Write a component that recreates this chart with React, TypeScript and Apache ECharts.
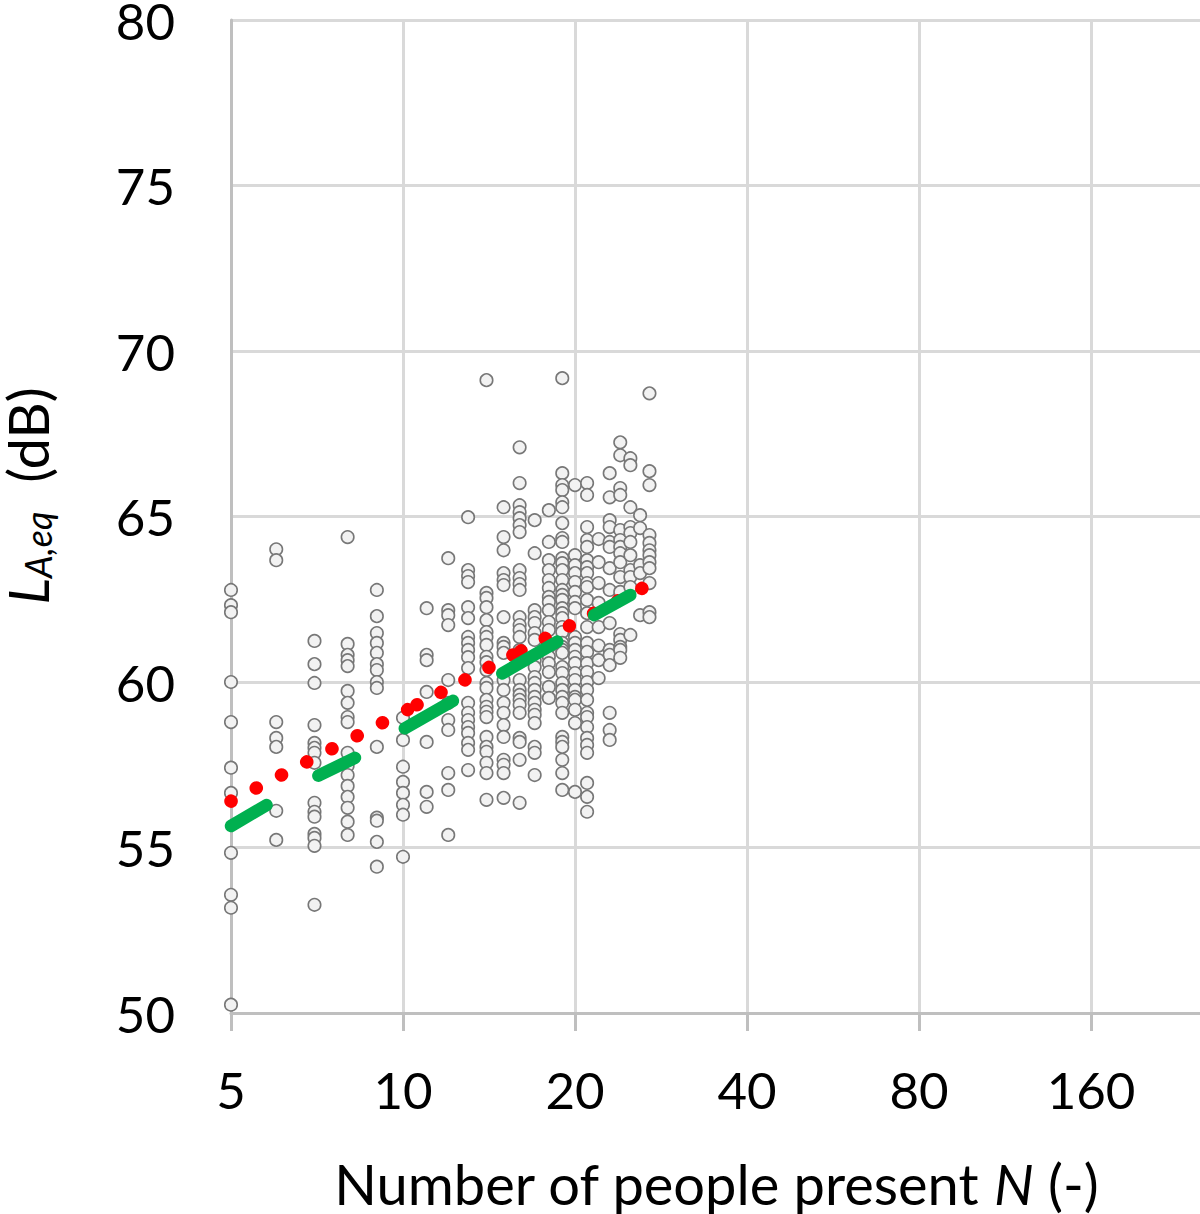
import React, { useEffect, useRef } from "react";
import * as echarts from "echarts";

// Number of people present N (x categories, plotted on a log2 axis)
const peopleCounts = [5, 6, 7, 8, 9, 10, 11, 12, 13, 14, 15, 16, 17, 18, 19, 20, 21, 22, 23, 24, 25, 26, 27];

// Measured LA,eq (dB) for every N above (same order)
const levelsByCount: number[][] = [
  [62.78, 62.32, 62.11, 60.0, 58.79, 57.41, 56.65, 54.84, 53.57, 53.18, 50.25],
  [64.01, 63.68, 58.79, 58.31, 58.04, 56.11, 55.23],
  [61.24, 60.54, 59.97, 58.7, 58.16, 58.01, 57.86, 57.56, 56.35, 56.08, 55.93, 55.41, 55.29, 55.05, 53.27],
  [64.38, 61.15, 60.82, 60.66, 60.48, 59.73, 59.37, 58.94, 58.79, 57.86, 57.47, 57.19, 56.86, 56.53, 56.2, 55.78, 55.38],
  [62.78, 61.99, 61.48, 61.18, 60.88, 60.54, 60.36, 60.0, 59.82, 58.04, 55.9, 55.81, 55.17, 54.42],
  [58.92, 58.25, 57.44, 56.98, 56.65, 56.29, 55.99, 54.72],
  [62.23, 60.82, 60.66, 59.7, 58.19, 56.68, 56.23],
  [63.74, 62.17, 62.02, 61.72, 60.06, 59.37, 58.85, 58.55, 57.25, 56.74, 55.38],
  [64.98, 63.38, 63.2, 63.02, 62.26, 61.93, 61.36, 61.18, 60.97, 60.75, 60.42, 59.37, 59.07, 58.85, 58.64, 58.46, 58.16, 57.95, 57.34],
  [69.12, 62.69, 62.54, 62.26, 61.87, 61.51, 61.36, 61.12, 60.76, 60.6, 60.36, 59.97, 59.82, 59.46, 59.25, 59.1, 58.94, 58.34, 58.04, 57.89, 57.56, 57.25, 56.44],
  [65.28, 64.38, 63.98, 63.29, 63.08, 62.93, 61.96, 61.18, 61.06, 60.88, 60.06, 59.76, 59.37, 59.07, 58.7, 58.34, 57.65, 57.5, 57.25, 56.5],
  [67.09, 66.01, 65.34, 65.13, 64.95, 64.74, 64.53, 63.38, 63.14, 62.96, 62.78, 61.96, 61.72, 61.57, 61.36, 60.97, 60.88, 60.06, 59.76, 59.61, 59.46, 59.31, 59.07, 58.31, 58.19, 57.65, 56.35],
  [64.89, 63.89, 62.17, 61.96, 61.78, 61.48, 61.27, 60.66, 60.45, 60.15, 59.97, 59.76, 59.55, 59.37, 59.16, 59.01, 58.76, 58.04, 57.86, 57.19],
  [65.19, 64.23, 63.68, 63.38, 63.08, 62.84, 62.57, 62.42, 62.17, 61.81, 61.57, 61.06, 60.76, 60.57, 60.3, 59.85, 59.52],
  [69.18, 66.31, 65.95, 65.8, 65.43, 65.28, 64.8, 64.35, 64.23, 63.74, 63.59, 63.38, 63.08, 62.78, 62.63, 62.48, 62.23, 62.08, 61.93, 61.66, 61.51, 61.18, 61.06, 60.97, 60.88, 60.45, 60.27, 59.97, 59.76, 59.55, 59.37, 59.07, 58.34, 58.19, 58.04, 57.65, 57.25, 56.74],
  [65.95, 63.83, 63.53, 63.29, 63.02, 62.72, 62.42, 62.23, 61.36, 61.18, 60.97, 60.76, 60.57, 60.27, 60.06, 59.76, 59.55, 59.46, 59.16, 58.76, 56.68],
  [66.01, 65.65, 64.68, 64.29, 64.08, 63.68, 63.47, 63.29, 62.99, 62.87, 62.48, 62.08, 61.66, 61.18, 60.91, 60.57, 60.3, 60.0, 59.76, 59.46, 59.07, 58.94, 58.64, 58.31, 58.1, 57.86, 56.95, 56.53, 56.08],
  [64.32, 63.62, 62.99, 62.39, 61.66, 61.1, 60.66, 60.12],
  [66.31, 65.58, 64.89, 64.68, 64.23, 64.08, 63.44, 62.78, 61.78, 60.97, 60.82, 60.51, 59.07, 58.55, 58.25],
  [67.24, 66.85, 65.86, 65.65, 64.59, 64.29, 64.08, 63.89, 63.62, 63.17, 62.72, 61.45, 61.27, 61.06, 60.97, 60.73],
  [66.76, 66.55, 65.28, 64.68, 64.5, 64.23, 63.83, 63.38, 63.17, 62.87, 61.42],
  [65.04, 64.65, 63.53, 63.29, 62.02],
  [68.72, 66.37, 65.95, 64.44, 64.2, 63.98, 63.83, 63.62, 63.44, 62.99, 62.11, 61.96],
];

// x-axis tick labels (one per doubling of N, starting at 5)
const xTickLabels = ["5", "10", "20", "40", "80", "160", "320"];

// Red dotted trend line (overall fit), drawn in three pieces as in the original
const redSegN = [
  [5, 10.2],
  [10.58, 15.58],
  [16.09, 26.2],
];
const redSegLevel = [
  [56.4, 59.17],
  [59.31, 60.82],
  [60.94, 62.83],
];
const redSegDotSpacing = [28.42, 27.02, 27.2];

// Green thick segments (fits per group)
const greenSegN = [
  [5, 5.77],
  [7.11, 8.24],
  [10.07, 12.23],
  [14.92, 18.62],
  [21.6, 25.0],
];
const greenSegLevel = [
  [55.65, 56.28],
  [57.17, 57.71],
  [58.6, 59.43],
  [60.26, 61.22],
  [62.02, 62.63],
];

const FONT = "Lato, 'Open Sans', sans-serif";
const toAxisX = (n: number) => Math.log2(n / 5);

export default function App() {
  const ref = useRef<HTMLDivElement>(null);

  useEffect(() => {
    if (!ref.current) return;
    const chart = echarts.init(ref.current, undefined, { renderer: "svg" });

    const scatterData: number[][] = [];
    peopleCounts.forEach((n, i) => {
      levelsByCount[i].forEach((v) => scatterData.push([toAxisX(n), v]));
    });

    const redSeries = redSegN.map((seg, i) => ({
      type: "line",
      data: seg.map((n, j) => [toAxisX(n), redSegLevel[i][j]]),
      symbol: "none",
      clip: true,
      z: 3,
      silent: true,
      lineStyle: {
        color: "#ff0000",
        width: 13.5,
        type: [0.1, redSegDotSpacing[i] - 0.1],
        cap: "round",
      },
    }));

    const greenSeries = greenSegN.map((seg, i) => ({
      type: "line",
      data: seg.map((n, j) => [toAxisX(n), greenSegLevel[i][j]]),
      symbol: "none",
      clip: true,
      z: 4,
      lineStyle: { color: "#00b050", width: 12.5, cap: "round" },
      silent: true,
    }));

    const option: any = {
      animation: false,
      textStyle: { fontFamily: FONT },
      grid: {
        left: 231,
        right: -63,
        top: 20,
        bottom: 201,
        containLabel: false,
        outerBoundsMode: "none",
      },
      xAxis: {
        type: "value",
        min: 0,
        max: 6,
        interval: 1,
        axisLine: { show: true, onZero: false, lineStyle: { color: "#bfbfbf", width: 3 } },
        axisTick: { show: true, length: 18, lineStyle: { color: "#bfbfbf", width: 3 } },
        axisLabel: {
          fontSize: 51,
          color: "#000",
          fontFamily: FONT,
          margin: 51,
          formatter: (v: number) => xTickLabels[Math.round(v)] ?? "",
        },
        splitLine: { show: true, lineStyle: { color: "#d9d9d9", width: 3 } },
      },
      yAxis: {
        type: "value",
        min: 50,
        max: 80,
        interval: 5,
        axisLine: { show: true, lineStyle: { color: "#bfbfbf", width: 3 } },
        axisTick: { show: false },
        axisLabel: {
          fontSize: 51,
          color: "#000",
          fontFamily: FONT,
          margin: 56,
          padding: [0, 0, 22, 0],
        },
        splitLine: { show: true, lineStyle: { color: "#d9d9d9", width: 3 } },
      },
      series: [
        {
          type: "scatter",
          data: scatterData,
          symbol: "circle",
          symbolSize: 12.5,
          z: 2,
          itemStyle: { color: "#f2f2f2", borderColor: "#777777", borderWidth: 1.6, opacity: 1 },
        },
        ...redSeries,
        ...greenSeries,
      ],
      graphic: [
        {
          type: "text",
          x: 27,
          y: 496,
          rotation: Math.PI / 2,
          style: {
            text: "{l|L}{s|A,eq}{n|  (dB)}",
            align: "center",
            verticalAlign: "middle",
            fill: "#000",
            rich: {
              l: { fontSize: 56, fontStyle: "italic", fontFamily: FONT, lineHeight: 58, fill: "#000" },
              s: { fontSize: 36, fontStyle: "italic", fontFamily: FONT, lineHeight: 36, verticalAlign: "bottom", fill: "#000" },
              n: { fontSize: 56, fontFamily: FONT, lineHeight: 58, fill: "#000" },
            },
          },
        },
        {
          type: "text",
          x: 716,
          y: 1183,
          style: {
            text: "{a|Number of people present }{i|N}{a| (-)}",
            align: "center",
            verticalAlign: "middle",
            fill: "#000",
            rich: {
              a: { fontSize: 56, fontFamily: FONT, lineHeight: 50, fill: "#000" },
              i: { fontSize: 56, fontFamily: FONT, fontStyle: "italic", lineHeight: 50, fill: "#000" },
            },
          },
        },
      ],
    };

    chart.setOption(option);
    return () => chart.dispose();
  }, []);

  return (
    <div
      ref={ref}
      style={{ position: "absolute", left: 0, top: 0, width: 1200, height: 1214, background: "#fff" }}
    />
  );
}
